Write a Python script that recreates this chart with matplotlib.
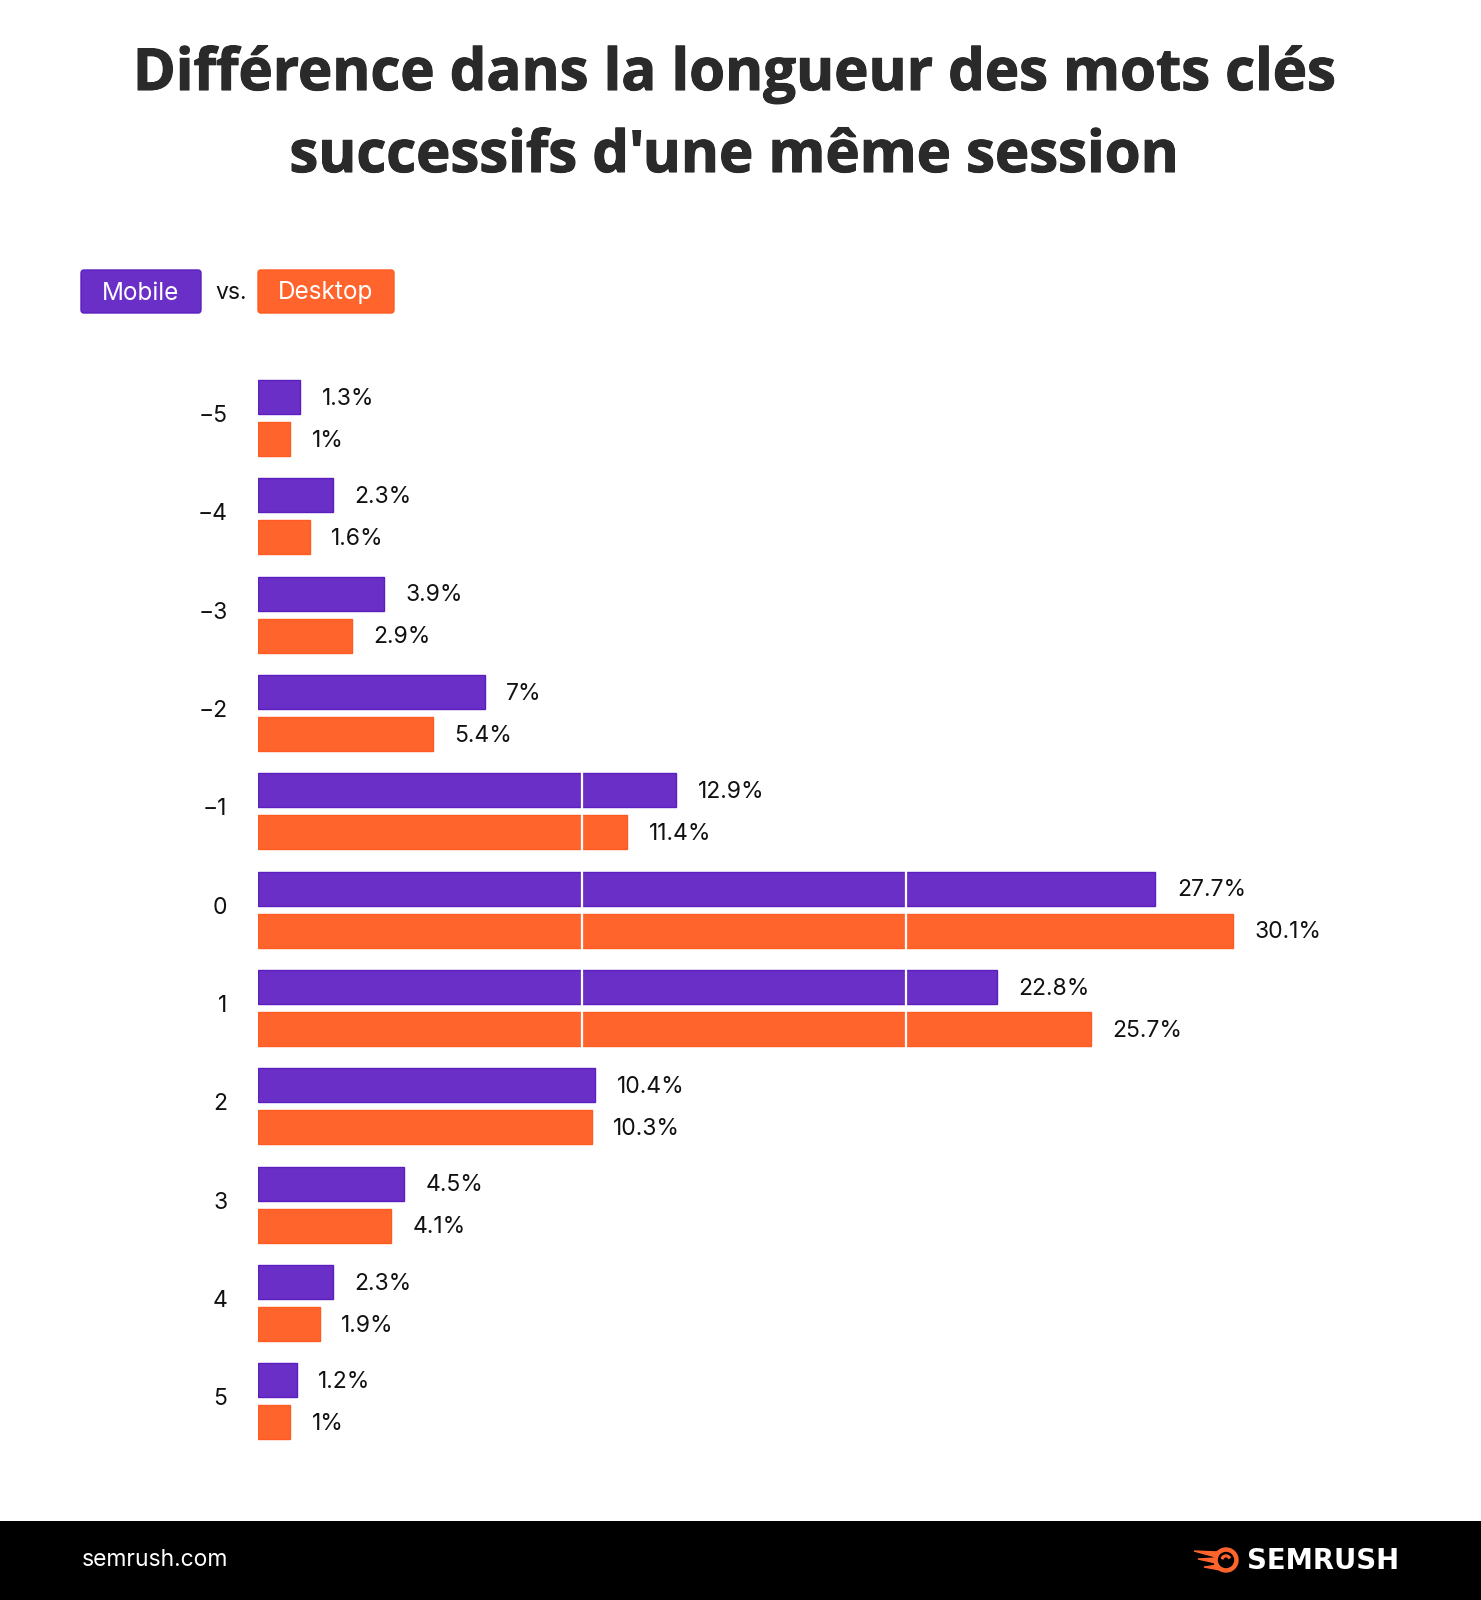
import matplotlib.pyplot as plt
import matplotlib.patches as mpatches
import matplotlib.patheffects as pe
import numpy as np

# Data
categories = ['\u22125', '\u22124', '\u22123', '\u22122', '\u22121', '0', '1', '2', '3', '4', '5']
mobile = [1.3, 2.3, 3.9, 7, 12.9, 27.7, 22.8, 10.4, 4.5, 2.3, 1.2]
desktop = [1, 1.6, 2.9, 5.4, 11.4, 30.1, 25.7, 10.3, 4.1, 1.9, 1]
mobile_labels = ['1.3%', '2.3%', '3.9%', '7%', '12.9%', '27.7%', '22.8%', '10.4%', '4.5%', '2.3%', '1.2%']
desktop_labels = ['1%', '1.6%', '2.9%', '5.4%', '11.4%', '30.1%', '25.7%', '10.3%', '4.1%', '1.9%', '1%']
grid_values = [10, 20]

PURPLE = '#6A2FC6'
PURPLE_EDGE = '#5B1FBF'
ORANGE = '#FF642D'
ORANGE_EDGE = '#FF5A1F'
TXT = '#111111'

W, H = 1481, 1600
fig = plt.figure(figsize=(W / 100, H / 100), dpi=100)
fig.patch.set_facecolor('white')

# Title with a light drop shadow
title_font = ['Open Sans', 'DejaVu Sans']
for yy, line in [(75, "Différence dans la longueur des mots clés"),
                 (157, "successifs d'une même session")]:
    t = fig.text(0.4955, 1 - yy / H, line, ha='center', va='center', fontsize=41.8,
                 fontweight='bold', color='#2a2a2a', family=title_font)
    t.set_path_effects([pe.withStroke(linewidth=0.8, foreground='#2a2a2a'),
                        pe.SimpleLineShadow(offset=(1.5, -1.5), shadow_color='#777777', alpha=0.5),
                        pe.Normal()])

# Legend boxes
lab_font = ['Inter', 'DejaVu Sans']
for x0, x1, col, edge, name in [(81, 201, PURPLE, PURPLE_EDGE, 'Mobile'),
                                (258, 394, ORANGE, ORANGE_EDGE, 'Desktop')]:
    box = mpatches.FancyBboxPatch((x0 / W, 1 - 313 / H), (x1 - x0) / W, 43 / H,
                                  boxstyle='round,pad=0,rounding_size=0.002',
                                  transform=fig.transFigure, facecolor=col,
                                  edgecolor=edge, linewidth=1)
    fig.patches.append(box)
    fig.text((x0 + x1) / 2 / W, 1 - 293 / H, name, ha='center', va='center',
             fontsize=17.5, color='white', family=lab_font)
fig.text(231 / W, 1 - 293 / H, 'vs.', ha='center', va='center',
         fontsize=16.5, color=TXT, family=lab_font)

# Chart axes
px_per_pct = 32.4
left_px = 258
ax = fig.add_axes([left_px / W, 1 - 1480 / H, (W - left_px) / W, 1140 / H])
ax.set_xlim(0, (W - left_px) / px_per_pct)
ax.set_ylim(10.80, -0.793)
ax.axis('off')

y = np.arange(len(categories))
off = 0.214
bh = 0.346
ax.barh(y - off, mobile, height=bh, color=PURPLE, edgecolor=PURPLE_EDGE, linewidth=1, zorder=2)
ax.barh(y + off, desktop, height=bh, color=ORANGE, edgecolor=ORANGE_EDGE, linewidth=1, zorder=2)

# white grid lines only across the rows -1 .. 1
g0 = categories.index('\u22121')
g1 = categories.index('1')
ax.vlines(grid_values, y[g0] - off - bh / 2 - 0.02, y[g1] + off + bh / 2 + 0.02,
          color='white', linewidth=1.6, zorder=3)

for i in range(len(categories)):
    ax.annotate(mobile_labels[i], (mobile[i], y[i] - off), xytext=(15.5, -1.2),
                textcoords='offset points', ha='left', va='center',
                fontsize=16.5, color=TXT, family=lab_font, zorder=4)
    ax.annotate(desktop_labels[i], (desktop[i], y[i] + off), xytext=(15.5, -1.2),
                textcoords='offset points', ha='left', va='center',
                fontsize=16.5, color=TXT, family=lab_font, zorder=4)
    ax.annotate(categories[i], (0, y[i]), xytext=(-22, 1.5),
                textcoords='offset points', ha='right', va='center',
                fontsize=16.5, color=TXT, family=lab_font, annotation_clip=False)

# Footer band
fig.patches.append(mpatches.Rectangle((0, 0), 1, 79 / H, transform=fig.transFigure,
                                      facecolor='black', edgecolor='none'))
fig.text(82 / W, 40 / H, 'semrush.com', ha='left', va='center', fontsize=16.5,
         color='white', family=['Inter', 'DejaVu Sans'])
fig.text(1247 / W, 39 / H, 'SEMRUSH', ha='left', va='center', fontsize=19.8,
         fontweight='bold', color='white', family=['DejaVu Sans'])

# Logo icon
lax = fig.add_axes([1192 / W, 24 / H, 50 / W, 32 / H])
lax.set_zorder(5)
lax.set_xlim(0, 50)
lax.set_ylim(0, 32)
lax.set_aspect('equal')
lax.axis('off')
lax.add_patch(mpatches.Circle((34, 16), 12, color=ORANGE))
lax.add_patch(mpatches.Circle((34, 16), 7.5, color='black'))
lax.add_patch(mpatches.Polygon([[2, 25], [26, 24], [24, 19]], color=ORANGE))
lax.add_patch(mpatches.Polygon([[6, 17], [24, 18], [24, 13]], color=ORANGE))
lax.add_patch(mpatches.Polygon([[12, 9], [26, 11], [28, 6]], color=ORANGE))
lax.add_patch(mpatches.Wedge((34, 16), 5, 30, 160, width=1.8, color=ORANGE))

fig.savefig('out.png', dpi=100, facecolor='white')
